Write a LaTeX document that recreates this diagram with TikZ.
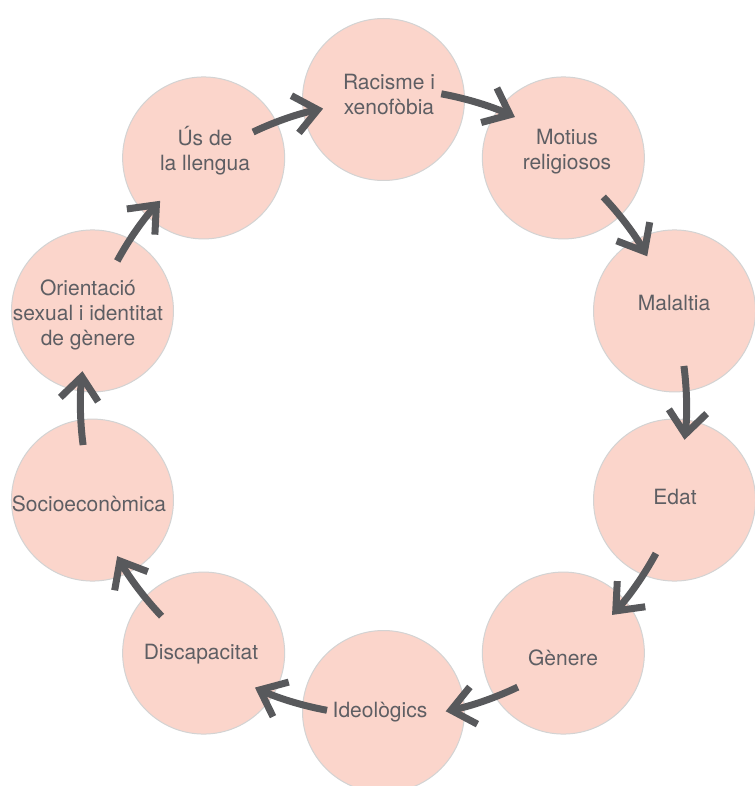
\documentclass[tikz,border=0pt]{standalone}
\usepackage{fontspec}
\setmainfont{TeX Gyre Heros}
\usetikzlibrary{arrows.meta,calc}
\definecolor{circfill}{HTML}{FBD5CB}
\definecolor{circline}{HTML}{D3D3D3}
\definecolor{arrcol}{HTML}{58595C}
\definecolor{txtcol}{HTML}{5E5E63}
\begin{document}
\begin{tikzpicture}[x=1pt,y=1pt,
  bubble/.style={circle, fill=circfill, draw=circline, line width=1pt, minimum size=162pt, inner sep=0pt},
  lbl/.style={text=txtcol, font=\fontsize{21}{25}\selectfont, align=center, inner sep=0pt, anchor=base},
  flow/.style={draw=arrcol, line width=7pt, -{Straight Barb[length=23pt,width=38pt]}}]
\useasboundingbox (0,0) rectangle (754,-786);
\coordinate (ring) at (383.5,-405.5);
% circles
\node[bubble] (c1) at ([shift={(90:306)}]ring) {};
\node[bubble] (c2) at ([shift={(54:306)}]ring) {};
\node[bubble] (c3) at ([shift={(18:306)}]ring) {};
\node[bubble] (c4) at ([shift={(-18:306)}]ring) {};
\node[bubble] (c5) at ([shift={(-54:306)}]ring) {};
\node[bubble] (c6) at ([shift={(-90:306)}]ring) {};
\node[bubble] (c7) at ([shift={(-126:306)}]ring) {};
\node[bubble] (c8) at ([shift={(-162:306)}]ring) {};
\node[bubble] (c9) at ([shift={(162:306)}]ring) {};
\node[bubble] (c10) at ([shift={(126:306)}]ring) {};
% arrows (angle of the source circle / radius of the arc)
\foreach \a/\r in {126/303,90/317,54/303,18/303,-18/310,-54/312,-90/310,-126/306,-162/303,162/303}{
  \draw[flow] ([shift={(\a-10.5:\r)}]ring) arc[start angle=\a-10.5, end angle=\a-24.5, radius=\r];
}
% labels (anchor = baseline of the last line)
\node[lbl] (t1) at (389,-115) {Racisme i\\xenofòbia};
\node[lbl] (t2) at (567,-170) {Motius\\religiosos};
\node[lbl] (t3) at (674,-310.7) {Malaltia};
\node[lbl] (t4) at (675,-504) {Edat};
\node[lbl] (t5) at (563,-665) {Gènere};
\node[lbl] (t6) at (380,-717) {Ideològics};
\node[lbl] (t7) at (201,-659) {Discapacitat};
\node[lbl] (t8) at (89,-511.7) {Socioeconòmica};
\node[lbl] (t9) at (88,-345) {Orientació\\sexual i identitat\\de gènere};
\node[lbl] (t10) at (205,-170.5) {Ús de\\la llengua};
\end{tikzpicture}
\end{document}
